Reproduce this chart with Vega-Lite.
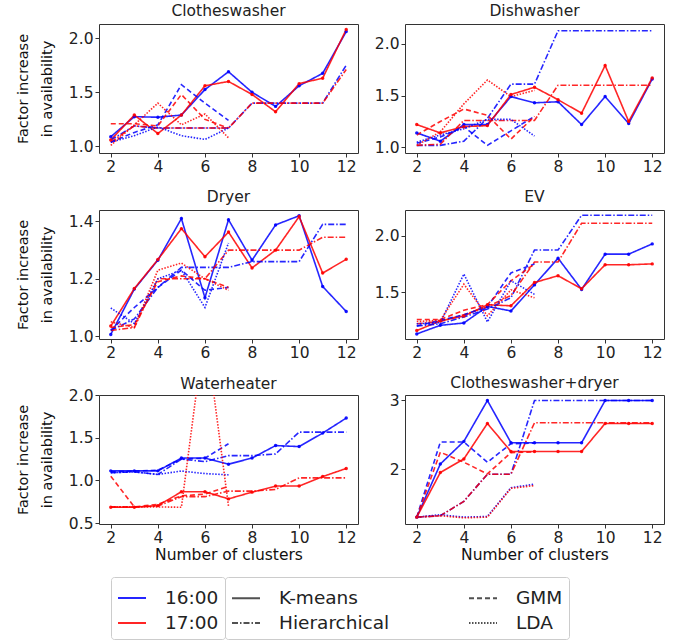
{
"$schema": "https://vega.github.io/schema/vega-lite/v6.json",
"padding": {"left": 14, "top": 3, "right": 5, "bottom": 3},
"datasets": {"d": [
{"p":"CW","t":"16:00","m":"K-means","k":2,"v":1.09},{"p":"CW","t":"16:00","m":"K-means","k":3,"v":1.275},{"p":"CW","t":"16:00","m":"K-means","k":4,"v":1.27},{"p":"CW","t":"16:00","m":"K-means","k":5,"v":1.29},{"p":"CW","t":"16:00","m":"K-means","k":6,"v":1.525},{"p":"CW","t":"16:00","m":"K-means","k":7,"v":1.69},{"p":"CW","t":"16:00","m":"K-means","k":8,"v":1.5},{"p":"CW","t":"16:00","m":"K-means","k":9,"v":1.37},{"p":"CW","t":"16:00","m":"K-means","k":10,"v":1.56},{"p":"CW","t":"16:00","m":"K-means","k":11,"v":1.675},{"p":"CW","t":"16:00","m":"K-means","k":12,"v":2.06},
{"p":"CW","t":"17:00","m":"K-means","k":2,"v":1.06},{"p":"CW","t":"17:00","m":"K-means","k":3,"v":1.29},{"p":"CW","t":"17:00","m":"K-means","k":4,"v":1.12},{"p":"CW","t":"17:00","m":"K-means","k":5,"v":1.29},{"p":"CW","t":"17:00","m":"K-means","k":6,"v":1.56},{"p":"CW","t":"17:00","m":"K-means","k":7,"v":1.6},{"p":"CW","t":"17:00","m":"K-means","k":8,"v":1.48},{"p":"CW","t":"17:00","m":"K-means","k":9,"v":1.32},{"p":"CW","t":"17:00","m":"K-means","k":10,"v":1.58},{"p":"CW","t":"17:00","m":"K-means","k":11,"v":1.63},{"p":"CW","t":"17:00","m":"K-means","k":12,"v":2.08},
{"p":"CW","t":"16:00","m":"Hierarchical","k":2,"v":1.06},{"p":"CW","t":"16:00","m":"Hierarchical","k":3,"v":1.19},{"p":"CW","t":"16:00","m":"Hierarchical","k":4,"v":1.17},{"p":"CW","t":"16:00","m":"Hierarchical","k":5,"v":1.17},{"p":"CW","t":"16:00","m":"Hierarchical","k":6,"v":1.17},{"p":"CW","t":"16:00","m":"Hierarchical","k":7,"v":1.17},{"p":"CW","t":"16:00","m":"Hierarchical","k":8,"v":1.4},{"p":"CW","t":"16:00","m":"Hierarchical","k":9,"v":1.4},{"p":"CW","t":"16:00","m":"Hierarchical","k":10,"v":1.4},{"p":"CW","t":"16:00","m":"Hierarchical","k":11,"v":1.4},{"p":"CW","t":"16:00","m":"Hierarchical","k":12,"v":1.75},
{"p":"CW","t":"17:00","m":"Hierarchical","k":2,"v":1.04},{"p":"CW","t":"17:00","m":"Hierarchical","k":3,"v":1.19},{"p":"CW","t":"17:00","m":"Hierarchical","k":4,"v":1.17},{"p":"CW","t":"17:00","m":"Hierarchical","k":5,"v":1.17},{"p":"CW","t":"17:00","m":"Hierarchical","k":6,"v":1.17},{"p":"CW","t":"17:00","m":"Hierarchical","k":7,"v":1.17},{"p":"CW","t":"17:00","m":"Hierarchical","k":8,"v":1.4},{"p":"CW","t":"17:00","m":"Hierarchical","k":9,"v":1.4},{"p":"CW","t":"17:00","m":"Hierarchical","k":10,"v":1.4},{"p":"CW","t":"17:00","m":"Hierarchical","k":11,"v":1.4},{"p":"CW","t":"17:00","m":"Hierarchical","k":12,"v":1.71},
{"p":"CW","t":"16:00","m":"GMM","k":2,"v":1.04},{"p":"CW","t":"16:00","m":"GMM","k":3,"v":1.13},{"p":"CW","t":"16:00","m":"GMM","k":4,"v":1.2},{"p":"CW","t":"16:00","m":"GMM","k":5,"v":1.57},{"p":"CW","t":"16:00","m":"GMM","k":6,"v":1.4},{"p":"CW","t":"16:00","m":"GMM","k":7,"v":1.24},
{"p":"CW","t":"17:00","m":"GMM","k":2,"v":1.21},{"p":"CW","t":"17:00","m":"GMM","k":3,"v":1.21},{"p":"CW","t":"17:00","m":"GMM","k":4,"v":1.19},{"p":"CW","t":"17:00","m":"GMM","k":5,"v":1.48},{"p":"CW","t":"17:00","m":"GMM","k":6,"v":1.25},{"p":"CW","t":"17:00","m":"GMM","k":7,"v":1.17},
{"p":"CW","t":"16:00","m":"LDA","k":2,"v":1.04},{"p":"CW","t":"16:00","m":"LDA","k":3,"v":1.1},{"p":"CW","t":"16:00","m":"LDA","k":4,"v":1.18},{"p":"CW","t":"16:00","m":"LDA","k":5,"v":1.1},{"p":"CW","t":"16:00","m":"LDA","k":6,"v":1.065},{"p":"CW","t":"16:00","m":"LDA","k":7,"v":1.17},
{"p":"CW","t":"17:00","m":"LDA","k":2,"v":1.01},{"p":"CW","t":"17:00","m":"LDA","k":3,"v":1.2},{"p":"CW","t":"17:00","m":"LDA","k":4,"v":1.4},{"p":"CW","t":"17:00","m":"LDA","k":5,"v":1.2},{"p":"CW","t":"17:00","m":"LDA","k":6,"v":1.3},{"p":"CW","t":"17:00","m":"LDA","k":7,"v":1.08},

{"p":"DW","t":"16:00","m":"K-means","k":2,"v":1.14},{"p":"DW","t":"16:00","m":"K-means","k":3,"v":1.06},{"p":"DW","t":"16:00","m":"K-means","k":4,"v":1.22},{"p":"DW","t":"16:00","m":"K-means","k":5,"v":1.22},{"p":"DW","t":"16:00","m":"K-means","k":6,"v":1.49},{"p":"DW","t":"16:00","m":"K-means","k":7,"v":1.43},{"p":"DW","t":"16:00","m":"K-means","k":8,"v":1.44},{"p":"DW","t":"16:00","m":"K-means","k":9,"v":1.22},{"p":"DW","t":"16:00","m":"K-means","k":10,"v":1.49},{"p":"DW","t":"16:00","m":"K-means","k":11,"v":1.23},{"p":"DW","t":"16:00","m":"K-means","k":12,"v":1.66},
{"p":"DW","t":"17:00","m":"K-means","k":2,"v":1.22},{"p":"DW","t":"17:00","m":"K-means","k":3,"v":1.14},{"p":"DW","t":"17:00","m":"K-means","k":4,"v":1.2},{"p":"DW","t":"17:00","m":"K-means","k":5,"v":1.21},{"p":"DW","t":"17:00","m":"K-means","k":6,"v":1.51},{"p":"DW","t":"17:00","m":"K-means","k":7,"v":1.58},{"p":"DW","t":"17:00","m":"K-means","k":8,"v":1.46},{"p":"DW","t":"17:00","m":"K-means","k":9,"v":1.33},{"p":"DW","t":"17:00","m":"K-means","k":10,"v":1.79},{"p":"DW","t":"17:00","m":"K-means","k":11,"v":1.25},{"p":"DW","t":"17:00","m":"K-means","k":12,"v":1.67},
{"p":"DW","t":"16:00","m":"Hierarchical","k":2,"v":1.02},{"p":"DW","t":"16:00","m":"Hierarchical","k":3,"v":1.02},{"p":"DW","t":"16:00","m":"Hierarchical","k":4,"v":1.06},{"p":"DW","t":"16:00","m":"Hierarchical","k":5,"v":1.28},{"p":"DW","t":"16:00","m":"Hierarchical","k":6,"v":1.61},{"p":"DW","t":"16:00","m":"Hierarchical","k":7,"v":1.61},{"p":"DW","t":"16:00","m":"Hierarchical","k":8,"v":2.125},{"p":"DW","t":"16:00","m":"Hierarchical","k":9,"v":2.125},{"p":"DW","t":"16:00","m":"Hierarchical","k":10,"v":2.125},{"p":"DW","t":"16:00","m":"Hierarchical","k":11,"v":2.125},{"p":"DW","t":"16:00","m":"Hierarchical","k":12,"v":2.125},
{"p":"DW","t":"17:00","m":"Hierarchical","k":2,"v":1.02},{"p":"DW","t":"17:00","m":"Hierarchical","k":3,"v":1.03},{"p":"DW","t":"17:00","m":"Hierarchical","k":4,"v":1.26},{"p":"DW","t":"17:00","m":"Hierarchical","k":5,"v":1.26},{"p":"DW","t":"17:00","m":"Hierarchical","k":6,"v":1.26},{"p":"DW","t":"17:00","m":"Hierarchical","k":7,"v":1.26},{"p":"DW","t":"17:00","m":"Hierarchical","k":8,"v":1.6},{"p":"DW","t":"17:00","m":"Hierarchical","k":9,"v":1.6},{"p":"DW","t":"17:00","m":"Hierarchical","k":10,"v":1.6},{"p":"DW","t":"17:00","m":"Hierarchical","k":11,"v":1.6},{"p":"DW","t":"17:00","m":"Hierarchical","k":12,"v":1.6},
{"p":"DW","t":"16:00","m":"GMM","k":2,"v":1.04},{"p":"DW","t":"16:00","m":"GMM","k":3,"v":1.1},{"p":"DW","t":"16:00","m":"GMM","k":4,"v":1.2},{"p":"DW","t":"16:00","m":"GMM","k":5,"v":1.02},{"p":"DW","t":"16:00","m":"GMM","k":6,"v":1.16},{"p":"DW","t":"16:00","m":"GMM","k":7,"v":1.3},
{"p":"DW","t":"17:00","m":"GMM","k":2,"v":1.12},{"p":"DW","t":"17:00","m":"GMM","k":3,"v":1.25},{"p":"DW","t":"17:00","m":"GMM","k":4,"v":1.37},{"p":"DW","t":"17:00","m":"GMM","k":5,"v":1.31},{"p":"DW","t":"17:00","m":"GMM","k":6,"v":1.08},{"p":"DW","t":"17:00","m":"GMM","k":7,"v":1.3},
{"p":"DW","t":"16:00","m":"LDA","k":2,"v":1.05},{"p":"DW","t":"16:00","m":"LDA","k":3,"v":1.12},{"p":"DW","t":"16:00","m":"LDA","k":4,"v":1.18},{"p":"DW","t":"16:00","m":"LDA","k":5,"v":1.27},{"p":"DW","t":"16:00","m":"LDA","k":6,"v":1.27},{"p":"DW","t":"16:00","m":"LDA","k":7,"v":1.11},
{"p":"DW","t":"17:00","m":"LDA","k":2,"v":1.02},{"p":"DW","t":"17:00","m":"LDA","k":3,"v":1.15},{"p":"DW","t":"17:00","m":"LDA","k":4,"v":1.42},{"p":"DW","t":"17:00","m":"LDA","k":5,"v":1.65},{"p":"DW","t":"17:00","m":"LDA","k":6,"v":1.49},{"p":"DW","t":"17:00","m":"LDA","k":7,"v":1.55},

{"p":"DR","t":"16:00","m":"K-means","k":2,"v":1.006},{"p":"DR","t":"16:00","m":"K-means","k":3,"v":1.164},{"p":"DR","t":"16:00","m":"K-means","k":4,"v":1.265},{"p":"DR","t":"16:00","m":"K-means","k":5,"v":1.41},{"p":"DR","t":"16:00","m":"K-means","k":6,"v":1.134},{"p":"DR","t":"16:00","m":"K-means","k":7,"v":1.406},{"p":"DR","t":"16:00","m":"K-means","k":8,"v":1.265},{"p":"DR","t":"16:00","m":"K-means","k":9,"v":1.388},{"p":"DR","t":"16:00","m":"K-means","k":10,"v":1.42},{"p":"DR","t":"16:00","m":"K-means","k":11,"v":1.173},{"p":"DR","t":"16:00","m":"K-means","k":12,"v":1.086},
{"p":"DR","t":"17:00","m":"K-means","k":2,"v":1.035},{"p":"DR","t":"17:00","m":"K-means","k":3,"v":1.166},{"p":"DR","t":"17:00","m":"K-means","k":4,"v":1.267},{"p":"DR","t":"17:00","m":"K-means","k":5,"v":1.375},{"p":"DR","t":"17:00","m":"K-means","k":6,"v":1.277},{"p":"DR","t":"17:00","m":"K-means","k":7,"v":1.363},{"p":"DR","t":"17:00","m":"K-means","k":8,"v":1.238},{"p":"DR","t":"17:00","m":"K-means","k":9,"v":1.3},{"p":"DR","t":"17:00","m":"K-means","k":10,"v":1.417},{"p":"DR","t":"17:00","m":"K-means","k":11,"v":1.22},{"p":"DR","t":"17:00","m":"K-means","k":12,"v":1.268},
{"p":"DR","t":"16:00","m":"Hierarchical","k":2,"v":1.02},{"p":"DR","t":"16:00","m":"Hierarchical","k":3,"v":1.06},{"p":"DR","t":"16:00","m":"Hierarchical","k":4,"v":1.17},{"p":"DR","t":"16:00","m":"Hierarchical","k":5,"v":1.24},{"p":"DR","t":"16:00","m":"Hierarchical","k":6,"v":1.24},{"p":"DR","t":"16:00","m":"Hierarchical","k":7,"v":1.24},{"p":"DR","t":"16:00","m":"Hierarchical","k":8,"v":1.26},{"p":"DR","t":"16:00","m":"Hierarchical","k":9,"v":1.26},{"p":"DR","t":"16:00","m":"Hierarchical","k":10,"v":1.26},{"p":"DR","t":"16:00","m":"Hierarchical","k":11,"v":1.39},{"p":"DR","t":"16:00","m":"Hierarchical","k":12,"v":1.39},
{"p":"DR","t":"17:00","m":"Hierarchical","k":2,"v":1.02},{"p":"DR","t":"17:00","m":"Hierarchical","k":3,"v":1.03},{"p":"DR","t":"17:00","m":"Hierarchical","k":4,"v":1.2},{"p":"DR","t":"17:00","m":"Hierarchical","k":5,"v":1.2},{"p":"DR","t":"17:00","m":"Hierarchical","k":6,"v":1.2},{"p":"DR","t":"17:00","m":"Hierarchical","k":7,"v":1.3},{"p":"DR","t":"17:00","m":"Hierarchical","k":8,"v":1.3},{"p":"DR","t":"17:00","m":"Hierarchical","k":9,"v":1.3},{"p":"DR","t":"17:00","m":"Hierarchical","k":10,"v":1.3},{"p":"DR","t":"17:00","m":"Hierarchical","k":11,"v":1.345},{"p":"DR","t":"17:00","m":"Hierarchical","k":12,"v":1.345},
{"p":"DR","t":"16:00","m":"GMM","k":2,"v":1.02},{"p":"DR","t":"16:00","m":"GMM","k":3,"v":1.1},{"p":"DR","t":"16:00","m":"GMM","k":4,"v":1.17},{"p":"DR","t":"16:00","m":"GMM","k":5,"v":1.23},{"p":"DR","t":"16:00","m":"GMM","k":6,"v":1.16},{"p":"DR","t":"16:00","m":"GMM","k":7,"v":1.17},
{"p":"DR","t":"17:00","m":"GMM","k":2,"v":1.03},{"p":"DR","t":"17:00","m":"GMM","k":3,"v":1.04},{"p":"DR","t":"17:00","m":"GMM","k":4,"v":1.19},{"p":"DR","t":"17:00","m":"GMM","k":5,"v":1.21},{"p":"DR","t":"17:00","m":"GMM","k":6,"v":1.2},{"p":"DR","t":"17:00","m":"GMM","k":7,"v":1.17},
{"p":"DR","t":"16:00","m":"LDA","k":2,"v":1.098},{"p":"DR","t":"16:00","m":"LDA","k":3,"v":1.044},{"p":"DR","t":"16:00","m":"LDA","k":4,"v":1.2},{"p":"DR","t":"16:00","m":"LDA","k":5,"v":1.23},{"p":"DR","t":"16:00","m":"LDA","k":6,"v":1.1},{"p":"DR","t":"16:00","m":"LDA","k":7,"v":1.325},
{"p":"DR","t":"17:00","m":"LDA","k":2,"v":1.05},{"p":"DR","t":"17:00","m":"LDA","k":3,"v":1.03},{"p":"DR","t":"17:00","m":"LDA","k":4,"v":1.23},{"p":"DR","t":"17:00","m":"LDA","k":5,"v":1.255},{"p":"DR","t":"17:00","m":"LDA","k":6,"v":1.2},{"p":"DR","t":"17:00","m":"LDA","k":7,"v":1.16},

{"p":"EV","t":"16:00","m":"K-means","k":2,"v":1.13},{"p":"EV","t":"16:00","m":"K-means","k":3,"v":1.206},{"p":"EV","t":"16:00","m":"K-means","k":4,"v":1.227},{"p":"EV","t":"16:00","m":"K-means","k":5,"v":1.373},{"p":"EV","t":"16:00","m":"K-means","k":6,"v":1.333},{"p":"EV","t":"16:00","m":"K-means","k":7,"v":1.564},{"p":"EV","t":"16:00","m":"K-means","k":8,"v":1.8},{"p":"EV","t":"16:00","m":"K-means","k":9,"v":1.524},{"p":"EV","t":"16:00","m":"K-means","k":10,"v":1.836},{"p":"EV","t":"16:00","m":"K-means","k":11,"v":1.836},{"p":"EV","t":"16:00","m":"K-means","k":12,"v":1.927},
{"p":"EV","t":"17:00","m":"K-means","k":2,"v":1.16},{"p":"EV","t":"17:00","m":"K-means","k":3,"v":1.245},{"p":"EV","t":"17:00","m":"K-means","k":4,"v":1.288},{"p":"EV","t":"17:00","m":"K-means","k":5,"v":1.388},{"p":"EV","t":"17:00","m":"K-means","k":6,"v":1.379},{"p":"EV","t":"17:00","m":"K-means","k":7,"v":1.585},{"p":"EV","t":"17:00","m":"K-means","k":8,"v":1.645},{"p":"EV","t":"17:00","m":"K-means","k":9,"v":1.53},{"p":"EV","t":"17:00","m":"K-means","k":10,"v":1.742},{"p":"EV","t":"17:00","m":"K-means","k":11,"v":1.742},{"p":"EV","t":"17:00","m":"K-means","k":12,"v":1.75},
{"p":"EV","t":"16:00","m":"Hierarchical","k":2,"v":1.2},{"p":"EV","t":"16:00","m":"Hierarchical","k":3,"v":1.22},{"p":"EV","t":"16:00","m":"Hierarchical","k":4,"v":1.28},{"p":"EV","t":"16:00","m":"Hierarchical","k":5,"v":1.35},{"p":"EV","t":"16:00","m":"Hierarchical","k":6,"v":1.45},{"p":"EV","t":"16:00","m":"Hierarchical","k":7,"v":1.873},{"p":"EV","t":"16:00","m":"Hierarchical","k":8,"v":1.873},{"p":"EV","t":"16:00","m":"Hierarchical","k":9,"v":2.18},{"p":"EV","t":"16:00","m":"Hierarchical","k":10,"v":2.18},{"p":"EV","t":"16:00","m":"Hierarchical","k":11,"v":2.18},{"p":"EV","t":"16:00","m":"Hierarchical","k":12,"v":2.18},
{"p":"EV","t":"17:00","m":"Hierarchical","k":2,"v":1.22},{"p":"EV","t":"17:00","m":"Hierarchical","k":3,"v":1.24},{"p":"EV","t":"17:00","m":"Hierarchical","k":4,"v":1.3},{"p":"EV","t":"17:00","m":"Hierarchical","k":5,"v":1.37},{"p":"EV","t":"17:00","m":"Hierarchical","k":6,"v":1.47},{"p":"EV","t":"17:00","m":"Hierarchical","k":7,"v":1.767},{"p":"EV","t":"17:00","m":"Hierarchical","k":8,"v":1.767},{"p":"EV","t":"17:00","m":"Hierarchical","k":9,"v":2.11},{"p":"EV","t":"17:00","m":"Hierarchical","k":10,"v":2.11},{"p":"EV","t":"17:00","m":"Hierarchical","k":11,"v":2.11},{"p":"EV","t":"17:00","m":"Hierarchical","k":12,"v":2.11},
{"p":"EV","t":"16:00","m":"GMM","k":2,"v":1.2},{"p":"EV","t":"16:00","m":"GMM","k":3,"v":1.25},{"p":"EV","t":"16:00","m":"GMM","k":4,"v":1.3},{"p":"EV","t":"16:00","m":"GMM","k":5,"v":1.37},{"p":"EV","t":"16:00","m":"GMM","k":6,"v":1.67},{"p":"EV","t":"16:00","m":"GMM","k":7,"v":1.75},
{"p":"EV","t":"17:00","m":"GMM","k":2,"v":1.257},{"p":"EV","t":"17:00","m":"GMM","k":3,"v":1.257},{"p":"EV","t":"17:00","m":"GMM","k":4,"v":1.34},{"p":"EV","t":"17:00","m":"GMM","k":5,"v":1.39},{"p":"EV","t":"17:00","m":"GMM","k":6,"v":1.6},{"p":"EV","t":"17:00","m":"GMM","k":7,"v":1.75},
{"p":"EV","t":"16:00","m":"LDA","k":2,"v":1.22},{"p":"EV","t":"16:00","m":"LDA","k":3,"v":1.23},{"p":"EV","t":"16:00","m":"LDA","k":4,"v":1.66},{"p":"EV","t":"16:00","m":"LDA","k":5,"v":1.236},{"p":"EV","t":"16:00","m":"LDA","k":6,"v":1.6},{"p":"EV","t":"16:00","m":"LDA","k":7,"v":1.48},
{"p":"EV","t":"17:00","m":"LDA","k":2,"v":1.24},{"p":"EV","t":"17:00","m":"LDA","k":3,"v":1.25},{"p":"EV","t":"17:00","m":"LDA","k":4,"v":1.57},{"p":"EV","t":"17:00","m":"LDA","k":5,"v":1.29},{"p":"EV","t":"17:00","m":"LDA","k":6,"v":1.52},{"p":"EV","t":"17:00","m":"LDA","k":7,"v":1.45},

{"p":"WH","t":"16:00","m":"K-means","k":2,"v":1.112},{"p":"WH","t":"16:00","m":"K-means","k":3,"v":1.112},{"p":"WH","t":"16:00","m":"K-means","k":4,"v":1.112},{"p":"WH","t":"16:00","m":"K-means","k":5,"v":1.262},{"p":"WH","t":"16:00","m":"K-means","k":6,"v":1.262},{"p":"WH","t":"16:00","m":"K-means","k":7,"v":1.19},{"p":"WH","t":"16:00","m":"K-means","k":8,"v":1.262},{"p":"WH","t":"16:00","m":"K-means","k":9,"v":1.408},{"p":"WH","t":"16:00","m":"K-means","k":10,"v":1.396},{"p":"WH","t":"16:00","m":"K-means","k":11,"v":1.554},{"p":"WH","t":"16:00","m":"K-means","k":12,"v":1.73},
{"p":"WH","t":"17:00","m":"K-means","k":2,"v":0.686},{"p":"WH","t":"17:00","m":"K-means","k":3,"v":0.686},{"p":"WH","t":"17:00","m":"K-means","k":4,"v":0.705},{"p":"WH","t":"17:00","m":"K-means","k":5,"v":0.867},{"p":"WH","t":"17:00","m":"K-means","k":6,"v":0.867},{"p":"WH","t":"17:00","m":"K-means","k":7,"v":0.784},{"p":"WH","t":"17:00","m":"K-means","k":8,"v":0.863},{"p":"WH","t":"17:00","m":"K-means","k":9,"v":0.934},{"p":"WH","t":"17:00","m":"K-means","k":10,"v":0.934},{"p":"WH","t":"17:00","m":"K-means","k":11,"v":1.045},{"p":"WH","t":"17:00","m":"K-means","k":12,"v":1.14},
{"p":"WH","t":"16:00","m":"Hierarchical","k":2,"v":1.09},{"p":"WH","t":"16:00","m":"Hierarchical","k":3,"v":1.1},{"p":"WH","t":"16:00","m":"Hierarchical","k":4,"v":1.07},{"p":"WH","t":"16:00","m":"Hierarchical","k":5,"v":1.25},{"p":"WH","t":"16:00","m":"Hierarchical","k":6,"v":1.22},{"p":"WH","t":"16:00","m":"Hierarchical","k":7,"v":1.29},{"p":"WH","t":"16:00","m":"Hierarchical","k":8,"v":1.29},{"p":"WH","t":"16:00","m":"Hierarchical","k":9,"v":1.31},{"p":"WH","t":"16:00","m":"Hierarchical","k":10,"v":1.566},{"p":"WH","t":"16:00","m":"Hierarchical","k":11,"v":1.566},{"p":"WH","t":"16:00","m":"Hierarchical","k":12,"v":1.566},
{"p":"WH","t":"17:00","m":"Hierarchical","k":2,"v":0.69},{"p":"WH","t":"17:00","m":"Hierarchical","k":3,"v":0.69},{"p":"WH","t":"17:00","m":"Hierarchical","k":4,"v":0.7},{"p":"WH","t":"17:00","m":"Hierarchical","k":5,"v":0.81},{"p":"WH","t":"17:00","m":"Hierarchical","k":6,"v":0.81},{"p":"WH","t":"17:00","m":"Hierarchical","k":7,"v":0.875},{"p":"WH","t":"17:00","m":"Hierarchical","k":8,"v":0.875},{"p":"WH","t":"17:00","m":"Hierarchical","k":9,"v":0.895},{"p":"WH","t":"17:00","m":"Hierarchical","k":10,"v":1.03},{"p":"WH","t":"17:00","m":"Hierarchical","k":11,"v":1.03},{"p":"WH","t":"17:00","m":"Hierarchical","k":12,"v":1.03},
{"p":"WH","t":"16:00","m":"GMM","k":2,"v":1.1},{"p":"WH","t":"16:00","m":"GMM","k":3,"v":1.11},{"p":"WH","t":"16:00","m":"GMM","k":4,"v":1.12},{"p":"WH","t":"16:00","m":"GMM","k":5,"v":1.25},{"p":"WH","t":"16:00","m":"GMM","k":6,"v":1.26},{"p":"WH","t":"16:00","m":"GMM","k":7,"v":1.43},
{"p":"WH","t":"17:00","m":"GMM","k":2,"v":1.05},{"p":"WH","t":"17:00","m":"GMM","k":3,"v":0.69},{"p":"WH","t":"17:00","m":"GMM","k":4,"v":0.72},{"p":"WH","t":"17:00","m":"GMM","k":5,"v":0.82},{"p":"WH","t":"17:00","m":"GMM","k":6,"v":0.84},{"p":"WH","t":"17:00","m":"GMM","k":7,"v":0.93},
{"p":"WH","t":"16:00","m":"LDA","k":2,"v":1.09},{"p":"WH","t":"16:00","m":"LDA","k":3,"v":1.1},{"p":"WH","t":"16:00","m":"LDA","k":4,"v":1.07},{"p":"WH","t":"16:00","m":"LDA","k":5,"v":1.11},{"p":"WH","t":"16:00","m":"LDA","k":6,"v":1.08},{"p":"WH","t":"16:00","m":"LDA","k":7,"v":1.065},
{"p":"WH","t":"17:00","m":"LDA","k":2,"v":0.69},{"p":"WH","t":"17:00","m":"LDA","k":3,"v":0.69},{"p":"WH","t":"17:00","m":"LDA","k":4,"v":0.69},{"p":"WH","t":"17:00","m":"LDA","k":5,"v":0.686},{"p":"WH","t":"17:00","m":"LDA","k":6,"v":2.8},{"p":"WH","t":"17:00","m":"LDA","k":7,"v":0.7},

{"p":"CD","t":"16:00","m":"K-means","k":2,"v":1.3},{"p":"CD","t":"16:00","m":"K-means","k":3,"v":2.074},{"p":"CD","t":"16:00","m":"K-means","k":4,"v":2.404},{"p":"CD","t":"16:00","m":"K-means","k":5,"v":3.0},{"p":"CD","t":"16:00","m":"K-means","k":6,"v":2.384},{"p":"CD","t":"16:00","m":"K-means","k":7,"v":2.384},{"p":"CD","t":"16:00","m":"K-means","k":8,"v":2.384},{"p":"CD","t":"16:00","m":"K-means","k":9,"v":2.384},{"p":"CD","t":"16:00","m":"K-means","k":10,"v":3.0},{"p":"CD","t":"16:00","m":"K-means","k":11,"v":3.0},{"p":"CD","t":"16:00","m":"K-means","k":12,"v":3.0},
{"p":"CD","t":"17:00","m":"K-means","k":2,"v":1.3},{"p":"CD","t":"17:00","m":"K-means","k":3,"v":1.95},{"p":"CD","t":"17:00","m":"K-means","k":4,"v":2.148},{"p":"CD","t":"17:00","m":"K-means","k":5,"v":2.665},{"p":"CD","t":"17:00","m":"K-means","k":6,"v":2.256},{"p":"CD","t":"17:00","m":"K-means","k":7,"v":2.256},{"p":"CD","t":"17:00","m":"K-means","k":8,"v":2.256},{"p":"CD","t":"17:00","m":"K-means","k":9,"v":2.256},{"p":"CD","t":"17:00","m":"K-means","k":10,"v":2.665},{"p":"CD","t":"17:00","m":"K-means","k":11,"v":2.665},{"p":"CD","t":"17:00","m":"K-means","k":12,"v":2.665},
{"p":"CD","t":"16:00","m":"Hierarchical","k":2,"v":1.3},{"p":"CD","t":"16:00","m":"Hierarchical","k":3,"v":1.32},{"p":"CD","t":"16:00","m":"Hierarchical","k":4,"v":1.53},{"p":"CD","t":"16:00","m":"Hierarchical","k":5,"v":1.926},{"p":"CD","t":"16:00","m":"Hierarchical","k":6,"v":1.926},{"p":"CD","t":"16:00","m":"Hierarchical","k":7,"v":3.0},{"p":"CD","t":"16:00","m":"Hierarchical","k":8,"v":3.0},{"p":"CD","t":"16:00","m":"Hierarchical","k":9,"v":3.0},{"p":"CD","t":"16:00","m":"Hierarchical","k":10,"v":3.0},{"p":"CD","t":"16:00","m":"Hierarchical","k":11,"v":3.0},{"p":"CD","t":"16:00","m":"Hierarchical","k":12,"v":3.0},
{"p":"CD","t":"17:00","m":"Hierarchical","k":2,"v":1.3},{"p":"CD","t":"17:00","m":"Hierarchical","k":3,"v":1.32},{"p":"CD","t":"17:00","m":"Hierarchical","k":4,"v":1.53},{"p":"CD","t":"17:00","m":"Hierarchical","k":5,"v":1.926},{"p":"CD","t":"17:00","m":"Hierarchical","k":6,"v":1.926},{"p":"CD","t":"17:00","m":"Hierarchical","k":7,"v":2.675},{"p":"CD","t":"17:00","m":"Hierarchical","k":8,"v":2.675},{"p":"CD","t":"17:00","m":"Hierarchical","k":9,"v":2.675},{"p":"CD","t":"17:00","m":"Hierarchical","k":10,"v":2.675},{"p":"CD","t":"17:00","m":"Hierarchical","k":11,"v":2.675},{"p":"CD","t":"17:00","m":"Hierarchical","k":12,"v":2.675},
{"p":"CD","t":"16:00","m":"GMM","k":2,"v":1.3},{"p":"CD","t":"16:00","m":"GMM","k":3,"v":2.394},{"p":"CD","t":"16:00","m":"GMM","k":4,"v":2.394},{"p":"CD","t":"16:00","m":"GMM","k":5,"v":2.1},{"p":"CD","t":"16:00","m":"GMM","k":6,"v":2.37},{"p":"CD","t":"16:00","m":"GMM","k":7,"v":2.38},
{"p":"CD","t":"17:00","m":"GMM","k":2,"v":1.3},{"p":"CD","t":"17:00","m":"GMM","k":3,"v":2.246},{"p":"CD","t":"17:00","m":"GMM","k":4,"v":2.1},{"p":"CD","t":"17:00","m":"GMM","k":5,"v":1.93},{"p":"CD","t":"17:00","m":"GMM","k":6,"v":2.24},{"p":"CD","t":"17:00","m":"GMM","k":7,"v":2.25},
{"p":"CD","t":"16:00","m":"LDA","k":2,"v":1.3},{"p":"CD","t":"16:00","m":"LDA","k":3,"v":1.335},{"p":"CD","t":"16:00","m":"LDA","k":4,"v":1.3},{"p":"CD","t":"16:00","m":"LDA","k":5,"v":1.31},{"p":"CD","t":"16:00","m":"LDA","k":6,"v":1.73},{"p":"CD","t":"16:00","m":"LDA","k":7,"v":1.78},
{"p":"CD","t":"17:00","m":"LDA","k":2,"v":1.3},{"p":"CD","t":"17:00","m":"LDA","k":3,"v":1.32},{"p":"CD","t":"17:00","m":"LDA","k":4,"v":1.29},{"p":"CD","t":"17:00","m":"LDA","k":5,"v":1.3},{"p":"CD","t":"17:00","m":"LDA","k":6,"v":1.72},{"p":"CD","t":"17:00","m":"LDA","k":7,"v":1.76}
]},
"data": {"name": "d"},
"columns": 2,
"spacing": {"row": 14, "column": 14},
"resolve": {"scale": {"color": "shared", "strokeDash": "shared"}},
"concat": [
{"title": "Clotheswasher", "width": 259, "height": 129,
 "transform": [{"filter": "datum.p === 'CW'"}],
 "encoding": {
  "x": {"field": "k", "type": "quantitative", "scale": {"domain": [1.5, 12.5], "nice": false, "zero": false}, "axis": {"values": [2,4,6,8,10,12], "title": null}},
  "y": {"field": "v", "type": "quantitative", "scale": {"domain": [0.94, 2.13], "nice": false, "zero": false}, "axis": {"values": [1,1.5,2], "format": ".1f", "title": ["Factor increase", "in availability"]}},
  "color": {"field": "t", "type": "nominal", "scale": {"domain": ["16:00","17:00"], "range": ["#0000ff","#ff0000"]}, "legend": {"direction": "vertical", "title": null}}
 },
 "layer": [
  {"mark": {"type": "line", "clip": true, "strokeWidth": 1.6, "opacity": 0.85}, "encoding": {"strokeDash": {"field": "m", "type": "nominal", "scale": {"domain": ["K-means","GMM","Hierarchical","LDA"], "range": [[1,0],[5,3],[6,2,1.5,2],[1.5,1.5]]}, "legend": {"columns": 2, "title": null}}}},
  {"mark": {"type": "point", "filled": true, "size": 12, "clip": true, "opacity": 0.9}, "transform": [{"filter": "datum.m === 'K-means'"}], "encoding": {}}
 ]},
{"title": "Dishwasher", "width": 259, "height": 129,
 "transform": [{"filter": "datum.p === 'DW'"}],
 "encoding": {
  "x": {"field": "k", "type": "quantitative", "scale": {"domain": [1.5, 12.5], "nice": false, "zero": false}, "axis": {"values": [2,4,6,8,10,12], "title": null}},
  "y": {"field": "v", "type": "quantitative", "scale": {"domain": [0.946, 2.19], "nice": false, "zero": false}, "axis": {"values": [1,1.5,2], "format": ".1f", "title": null}},
  "color": {"field": "t", "type": "nominal", "scale": {"domain": ["16:00","17:00"], "range": ["#0000ff","#ff0000"]}, "legend": {"direction": "vertical", "title": null}}
 },
 "layer": [
  {"mark": {"type": "line", "clip": true, "strokeWidth": 1.6, "opacity": 0.85}, "encoding": {"strokeDash": {"field": "m", "type": "nominal", "scale": {"domain": ["K-means","GMM","Hierarchical","LDA"], "range": [[1,0],[5,3],[6,2,1.5,2],[1.5,1.5]]}, "legend": {"columns": 2, "title": null}}}},
  {"mark": {"type": "point", "filled": true, "size": 12, "clip": true, "opacity": 0.9}, "transform": [{"filter": "datum.m === 'K-means'"}], "encoding": {}}
 ]},
{"title": "Dryer", "width": 259, "height": 129,
 "transform": [{"filter": "datum.p === 'DR'"}],
 "encoding": {
  "x": {"field": "k", "type": "quantitative", "scale": {"domain": [1.5, 12.5], "nice": false, "zero": false}, "axis": {"values": [2,4,6,8,10,12], "title": null}},
  "y": {"field": "v", "type": "quantitative", "scale": {"domain": [0.99, 1.44], "nice": false, "zero": false}, "axis": {"values": [1,1.2,1.4], "format": ".1f", "title": ["Factor increase", "in availability"]}},
  "color": {"field": "t", "type": "nominal", "scale": {"domain": ["16:00","17:00"], "range": ["#0000ff","#ff0000"]}, "legend": {"direction": "vertical", "title": null}}
 },
 "layer": [
  {"mark": {"type": "line", "clip": true, "strokeWidth": 1.6, "opacity": 0.85}, "encoding": {"strokeDash": {"field": "m", "type": "nominal", "scale": {"domain": ["K-means","GMM","Hierarchical","LDA"], "range": [[1,0],[5,3],[6,2,1.5,2],[1.5,1.5]]}, "legend": {"columns": 2, "title": null}}}},
  {"mark": {"type": "point", "filled": true, "size": 12, "clip": true, "opacity": 0.9}, "transform": [{"filter": "datum.m === 'K-means'"}], "encoding": {}}
 ]},
{"title": "EV", "width": 259, "height": 129,
 "transform": [{"filter": "datum.p === 'EV'"}],
 "encoding": {
  "x": {"field": "k", "type": "quantitative", "scale": {"domain": [1.5, 12.5], "nice": false, "zero": false}, "axis": {"values": [2,4,6,8,10,12], "title": null}},
  "y": {"field": "v", "type": "quantitative", "scale": {"domain": [1.085, 2.227], "nice": false, "zero": false}, "axis": {"values": [1.5,2], "format": ".1f", "title": null}},
  "color": {"field": "t", "type": "nominal", "scale": {"domain": ["16:00","17:00"], "range": ["#0000ff","#ff0000"]}, "legend": {"direction": "vertical", "title": null}}
 },
 "layer": [
  {"mark": {"type": "line", "clip": true, "strokeWidth": 1.6, "opacity": 0.85}, "encoding": {"strokeDash": {"field": "m", "type": "nominal", "scale": {"domain": ["K-means","GMM","Hierarchical","LDA"], "range": [[1,0],[5,3],[6,2,1.5,2],[1.5,1.5]]}, "legend": {"columns": 2, "title": null}}}},
  {"mark": {"type": "point", "filled": true, "size": 12, "clip": true, "opacity": 0.9}, "transform": [{"filter": "datum.m === 'K-means'"}], "encoding": {}}
 ]},
{"title": {"text": "Waterheater", "offset": -4}, "width": 259, "height": 129,
 "transform": [{"filter": "datum.p === 'WH'"}],
 "encoding": {
  "x": {"field": "k", "type": "quantitative", "scale": {"domain": [1.5, 12.5], "nice": false, "zero": false}, "axis": {"values": [2,4,6,8,10,12], "title": "Number of clusters"}},
  "y": {"field": "v", "type": "quantitative", "scale": {"domain": [0.49, 2.0], "nice": false, "zero": false}, "axis": {"values": [0.5,1,1.5,2], "format": ".1f", "title": ["Factor increase", "in availability"]}},
  "color": {"field": "t", "type": "nominal", "scale": {"domain": ["16:00","17:00"], "range": ["#0000ff","#ff0000"]}, "legend": {"direction": "vertical", "title": null}}
 },
 "layer": [
  {"mark": {"type": "line", "clip": true, "strokeWidth": 1.6, "opacity": 0.85}, "encoding": {"strokeDash": {"field": "m", "type": "nominal", "scale": {"domain": ["K-means","GMM","Hierarchical","LDA"], "range": [[1,0],[5,3],[6,2,1.5,2],[1.5,1.5]]}, "legend": {"columns": 2, "title": null}}}},
  {"mark": {"type": "point", "filled": true, "size": 12, "clip": true, "opacity": 0.9}, "transform": [{"filter": "datum.m === 'K-means'"}], "encoding": {}}
 ]},
{"title": {"text": "Clotheswasher+dryer", "offset": 1.5}, "width": 259, "height": 129,
 "transform": [{"filter": "datum.p === 'CD'"}],
 "encoding": {
  "x": {"field": "k", "type": "quantitative", "scale": {"domain": [1.5, 12.5], "nice": false, "zero": false}, "axis": {"values": [2,4,6,8,10,12], "title": "Number of clusters"}},
  "y": {"field": "v", "type": "quantitative", "scale": {"domain": [1.2, 3.08], "nice": false, "zero": false}, "axis": {"values": [2,3], "format": "d", "title": null}},
  "color": {"field": "t", "type": "nominal", "scale": {"domain": ["16:00","17:00"], "range": ["#0000ff","#ff0000"]}, "legend": {"direction": "vertical", "title": null}}
 },
 "layer": [
  {"mark": {"type": "line", "clip": true, "strokeWidth": 1.6, "opacity": 0.85}, "encoding": {"strokeDash": {"field": "m", "type": "nominal", "scale": {"domain": ["K-means","GMM","Hierarchical","LDA"], "range": [[1,0],[5,3],[6,2,1.5,2],[1.5,1.5]]}, "legend": {"columns": 2, "title": null}}}},
  {"mark": {"type": "point", "filled": true, "size": 12, "clip": true, "opacity": 0.9}, "transform": [{"filter": "datum.m === 'K-means'"}], "encoding": {}}
 ]}
],
"config": {
 "font": "DejaVu Sans",
 "view": {"stroke": "#333", "strokeWidth": 1},
 "axis": {"grid": false, "domain": false, "tickColor": "#333", "tickSize": 4, "labelFontSize": 15.5, "labelColor": "#222", "labelPadding": 2, "titleFontSize": 15.5, "titleFontWeight": "normal", "titleColor": "#111"},
 "axisY": {"titlePadding": 14, "titleFontSize": 14.5, "titleLineHeight": 24},
 "axisX": {"titlePadding": 2},
 "title": {"fontSize": 15.5, "fontWeight": "normal", "color": "#222", "offset": 5, "frame": "group"},
 "legend": {"orient": "bottom", "offset": 13, "labelFontSize": 18.5, "labelColor": "#222", "symbolType": "stroke", "symbolStrokeWidth": 2, "symbolSize": 784, "symbolStrokeColor": "#333", "rowPadding": 0, "columnPadding": 75, "labelOffset": 18, "strokeColor": "#ccc", "padding": 6, "cornerRadius": 3, "layout": {"bottom": {"anchor": "middle", "margin": 0}}}
}
}
